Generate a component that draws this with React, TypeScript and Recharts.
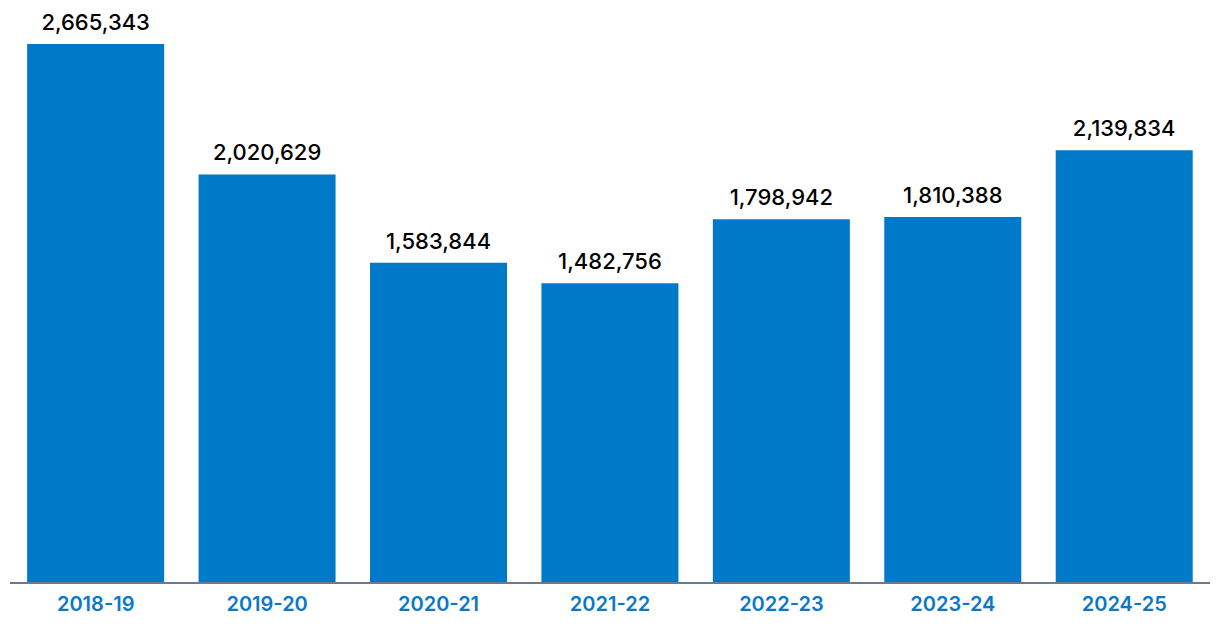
import { BarChart, Bar, XAxis, YAxis, LabelList } from 'recharts'

const years = ['2018-19', '2019-20', '2020-21', '2021-22', '2022-23', '2023-24', '2024-25']
const totals = [2665343, 2020629, 1583844, 1482756, 1798942, 1810388, 2139834]

const data = years.map((year, i) => ({ year, total: totals[i] }))

export default function App() {
  return (
    <div style={{ fontFamily: 'Inter, sans-serif' }}>
      <BarChart width={1212} height={620} data={data} margin={{ top: 36, right: 10, bottom: 5, left: 2 }} barCategoryGap="10%">
        <XAxis dataKey="year" height={40} tickLine={false} axisLine={{ stroke: '#6b7a8c', strokeWidth: 2 }}
          tick={{ fontSize: 20, fontWeight: 600, fill: '#0a78c8', dy: 6 }}/>
        <YAxis hide domain={[0, 2665343]}/>
        <Bar dataKey="total" fill="#0079c8" isAnimationActive={false}>
          <LabelList dataKey="total" position="top" offset={14} fill="#000" fontSize={22} fontWeight={500}
            formatter={(v: any) => Number(v).toLocaleString('en-US')}/>
        </Bar>
      </BarChart>
    </div>
  )
}
